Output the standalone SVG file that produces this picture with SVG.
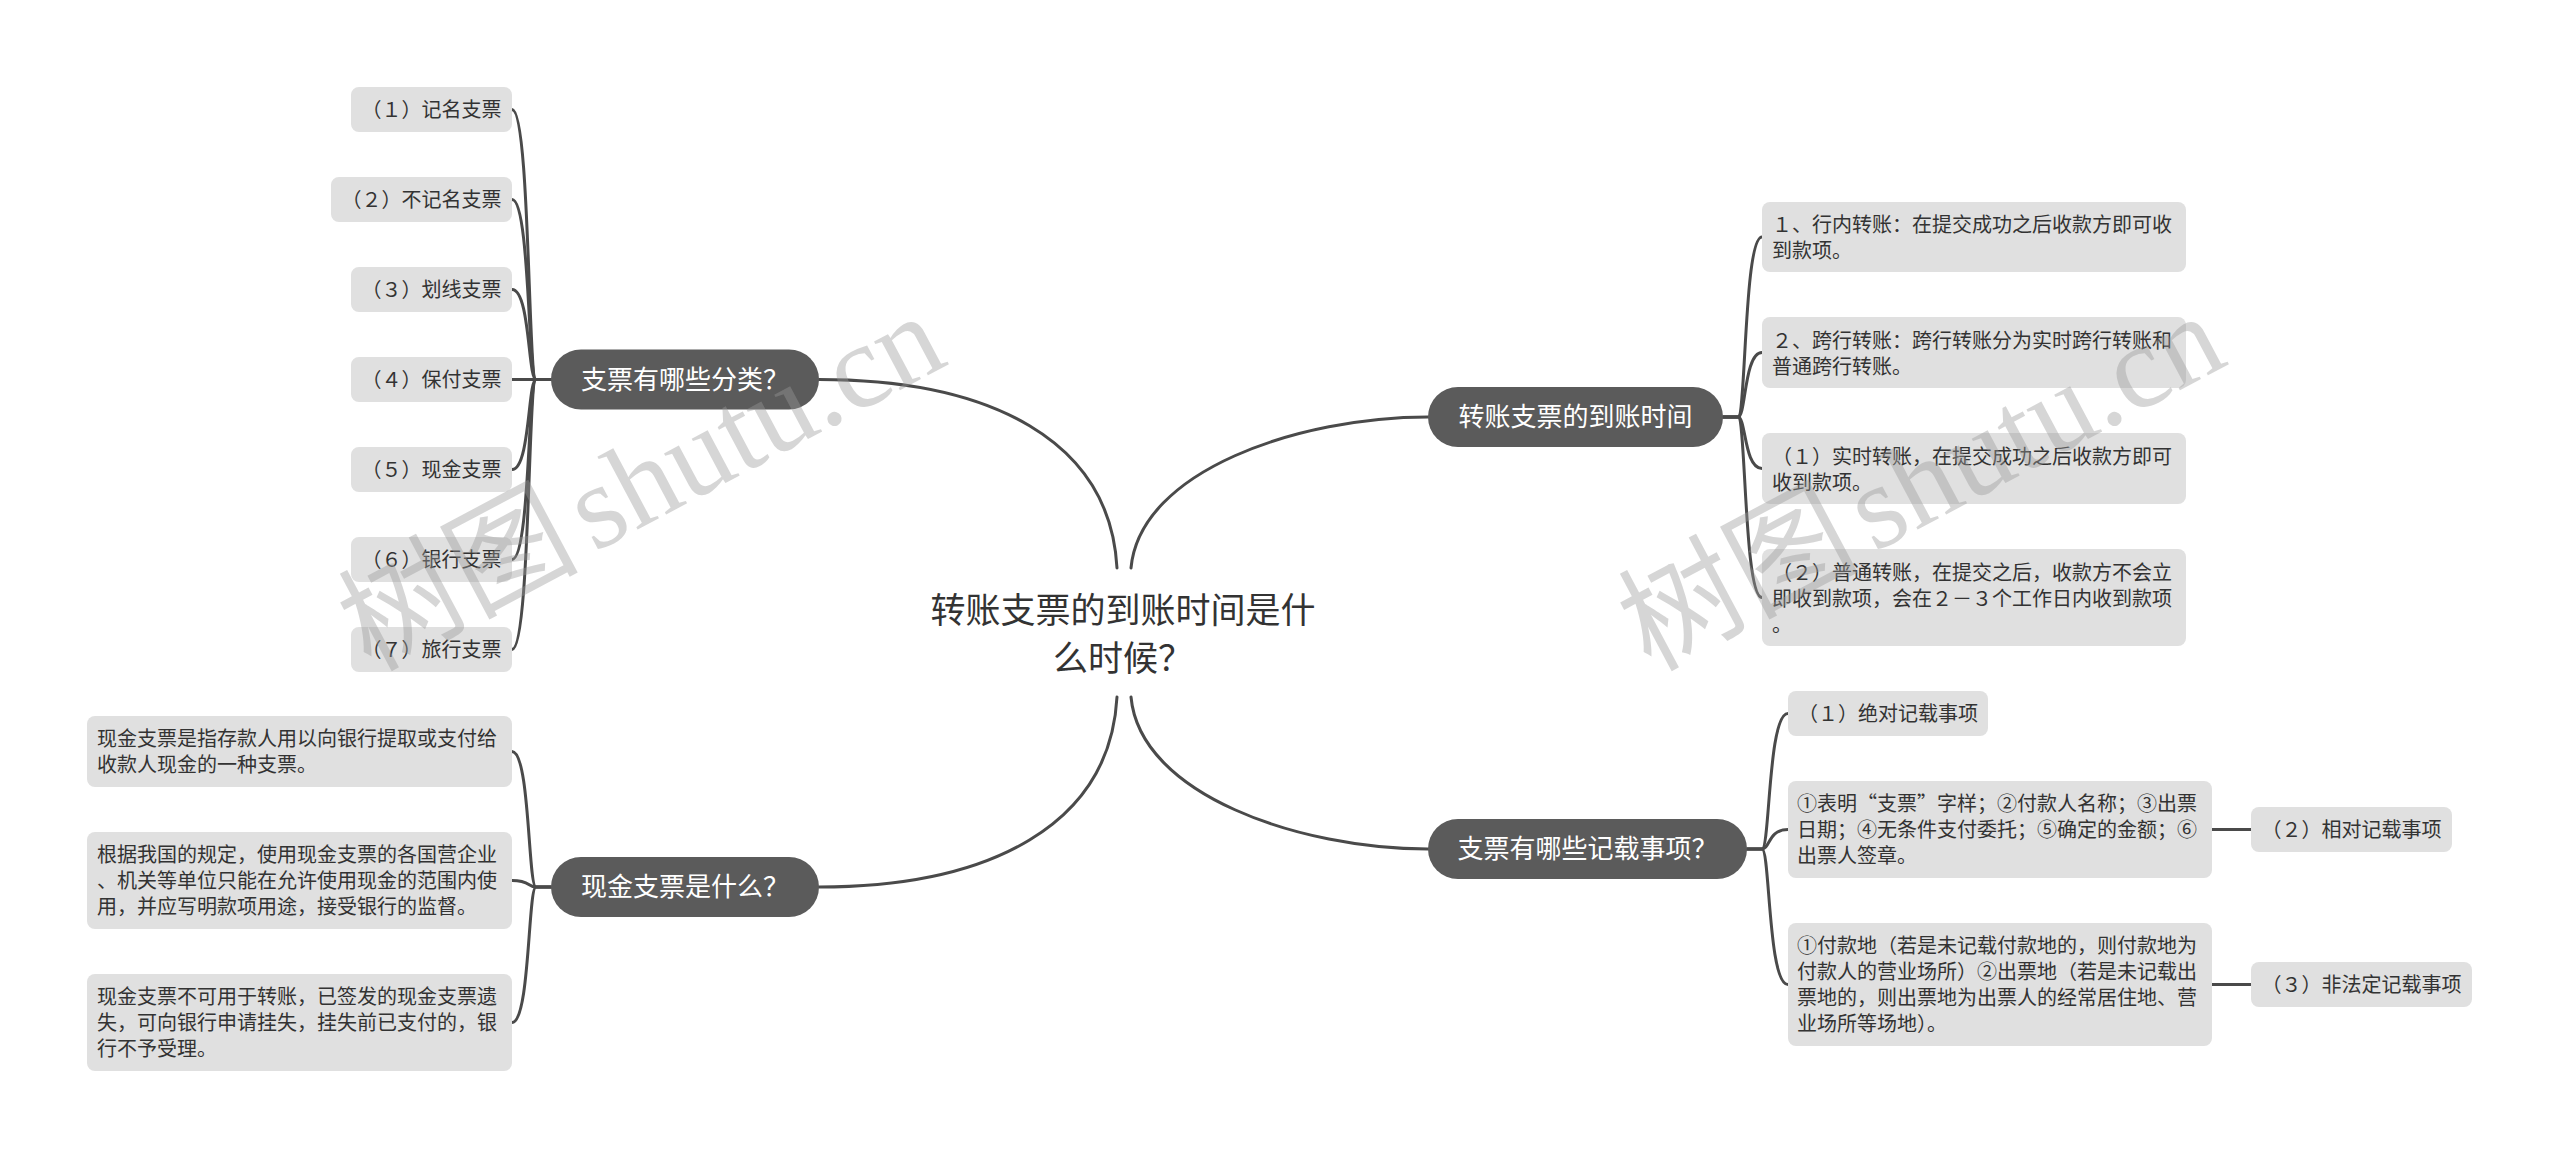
<svg xmlns="http://www.w3.org/2000/svg" width="2560" height="1159" viewBox="0 0 2560 1159">
<style>
text{font-family:"Noto Sans CJK SC","Liberation Sans",sans-serif}
.conn path{fill:none;stroke:#4a4a4a;stroke-width:3;stroke-linecap:round}
.main rect{fill:#5b5b5b}
.main text{fill:#ffffff;font-size:26px;text-anchor:middle}
.leaf rect{fill:#e0e0e0}
.leaf text{fill:#333333;font-size:20px}
.c{text-anchor:middle}
.root text{fill:#333333;font-size:35px;text-anchor:middle}
.wm{font-family:"Liberation Serif","Noto Sans CJK SC",serif;font-size:120px;fill:#9a9a9a;opacity:.4}
</style>
<rect width="2560" height="1159" fill="#ffffff"/>
<g id="connectors" class="conn">
<path d="M1117,568 C1110,440 990,379.5 819,379.5"/>
<path d="M1131,568 C1140,470 1300,417 1428,417"/>
<path d="M1117,697 C1110,825 990,887 819,887"/>
<path d="M1131,697 C1140,795 1300,849 1428,849"/>
<path d="M551,379.5 H536 C528,379.5 530,109.5 512,109.5"/>
<path d="M551,379.5 H536 C528,379.5 530,199.5 512,199.5"/>
<path d="M551,379.5 H536 C528,379.5 530,289.5 512,289.5"/>
<path d="M551,379.5 H512"/>
<path d="M551,379.5 H536 C528,379.5 530,469.5 512,469.5"/>
<path d="M551,379.5 H536 C528,379.5 530,559.5 512,559.5"/>
<path d="M551,379.5 H536 C528,379.5 530,649.5 512,649.5"/>
<path d="M551,887 H536 C528,887 530,751.5 512,751.5"/>
<path d="M551,887 H536 C528,887 530,880.5 512,880.5"/>
<path d="M551,887 H536 C528,887 530,1022.5 512,1022.5"/>
<path d="M1723,417 H1738 C1746,417 1744,237 1762,237"/>
<path d="M1723,417 H1738 C1746,417 1744,352.5 1762,352.5"/>
<path d="M1723,417 H1738 C1746,417 1744,468.5 1762,468.5"/>
<path d="M1723,417 H1738 C1746,417 1744,597.5 1762,597.5"/>
<path d="M1747,849 H1762 C1770,849 1768,713.5 1788,713.5"/>
<path d="M1747,849 H1762 C1770,849 1768,829.5 1788,829.5"/>
<path d="M1747,849 H1762 C1770,849 1768,984.5 1788,984.5"/>
<path d="M2212,829.5 H2251"/>
<path d="M2212,984.5 H2251"/>
</g>
<g id="root" class="root">
<text x="1123" y="623">转账支票的到账时间是什</text>
<text x="1123" y="671">么时候？</text>
</g>
<g id="n-cat" class="main"><rect x="551" y="349.5" width="268" height="60" rx="30"/><text x="685" y="388.5">支票有哪些分类？</text></g>
<g id="n-cash" class="main"><rect x="551" y="857" width="268" height="60" rx="30"/><text x="685" y="896">现金支票是什么？</text></g>
<g id="n-time" class="main"><rect x="1428" y="387" width="295" height="60" rx="30"/><text x="1575.5" y="426">转账支票的到账时间</text></g>
<g id="n-rec" class="main"><rect x="1428" y="819" width="319" height="60" rx="30"/><text x="1587.5" y="858">支票有哪些记载事项？</text></g>
<g id="c1" class="leaf"><rect x="351" y="87" width="161" height="45" rx="8"/><text class="c" x="431.5" y="116.5">（１）记名支票</text></g>
<g id="c2" class="leaf"><rect x="331" y="177" width="181" height="45" rx="8"/><text class="c" x="421.5" y="206.5">（２）不记名支票</text></g>
<g id="c3" class="leaf"><rect x="351" y="267" width="161" height="45" rx="8"/><text class="c" x="431.5" y="296.5">（３）划线支票</text></g>
<g id="c4" class="leaf"><rect x="351" y="357" width="161" height="45" rx="8"/><text class="c" x="431.5" y="386.5">（４）保付支票</text></g>
<g id="c5" class="leaf"><rect x="351" y="447" width="161" height="45" rx="8"/><text class="c" x="431.5" y="476.5">（５）现金支票</text></g>
<g id="c6" class="leaf"><rect x="351" y="537" width="161" height="45" rx="8"/><text class="c" x="431.5" y="566.5">（６）银行支票</text></g>
<g id="c7" class="leaf"><rect x="351" y="627" width="161" height="45" rx="8"/><text class="c" x="431.5" y="656.5">（７）旅行支票</text></g>
<g id="k1" class="leaf"><rect x="87" y="716" width="425" height="71" rx="8"/><text x="97" y="746">现金支票是指存款人用以向银行提取或支付给</text><text x="97" y="772">收款人现金的一种支票。</text></g>
<g id="k2" class="leaf"><rect x="87" y="832" width="425" height="97" rx="8"/><text x="97" y="862">根据我国的规定，使用现金支票的各国营企业</text><text x="97" y="888">、机关等单位只能在允许使用现金的范围内使</text><text x="97" y="914">用，并应写明款项用途，接受银行的监督。</text></g>
<g id="k3" class="leaf"><rect x="87" y="974" width="425" height="97" rx="8"/><text x="97" y="1004">现金支票不可用于转账，已签发的现金支票遗</text><text x="97" y="1030">失，可向银行申请挂失，挂失前已支付的，银</text><text x="97" y="1056">行不予受理。</text></g>
<g id="t1" class="leaf"><rect x="1762" y="202" width="424" height="70" rx="8"/><text x="1772" y="232">１、行内转账：在提交成功之后收款方即可收</text><text x="1772" y="258">到款项。</text></g>
<g id="t2" class="leaf"><rect x="1762" y="317" width="424" height="71" rx="8"/><text x="1772" y="348">２、跨行转账：跨行转账分为实时跨行转账和</text><text x="1772" y="374">普通跨行转账。</text></g>
<g id="t3" class="leaf"><rect x="1762" y="433" width="424" height="71" rx="8"/><text x="1772" y="464">（１）实时转账，在提交成功之后收款方即可</text><text x="1772" y="490">收到款项。</text></g>
<g id="t4" class="leaf"><rect x="1762" y="549" width="424" height="97" rx="8"/><text x="1772" y="580">（２）普通转账，在提交之后，收款方不会立</text><text x="1772" y="606">即收到款项，会在２－３个工作日内收到款项</text><text x="1772" y="632">。</text></g>
<g id="r1" class="leaf"><rect x="1788" y="691" width="200" height="45" rx="8"/><text class="c" x="1888" y="720.5">（１）绝对记载事项</text></g>
<g id="r2" class="leaf"><rect x="1788" y="781" width="424" height="97" rx="8"/><text x="1797" y="811">①表明“支票”字样；②付款人名称；③出票</text><text x="1797" y="837">日期；④无条件支付委托；⑤确定的金额；⑥</text><text x="1797" y="863">出票人签章。</text></g>
<g id="r3" class="leaf"><rect x="1788" y="923" width="424" height="123" rx="8"/><text x="1797" y="953">①付款地（若是未记载付款地的，则付款地为</text><text x="1797" y="979">付款人的营业场所）②出票地（若是未记载出</text><text x="1797" y="1005">票地的，则出票地为出票人的经常居住地、营</text><text x="1797" y="1031">业场所等场地）。</text></g>
<g id="s1" class="leaf"><rect x="2251" y="807" width="201" height="45" rx="8"/><text class="c" x="2351.5" y="836.5">（２）相对记载事项</text></g>
<g id="s2" class="leaf"><rect x="2251" y="962" width="221" height="45" rx="8"/><text class="c" x="2361.5" y="991.5">（３）非法定记载事项</text></g>
<g id="watermark">
<text class="wm" x="370" y="672" transform="rotate(-28 370 672)">树图<tspan dx="14">shutu.cn</tspan></text>
<text class="wm" x="1650" y="672" transform="rotate(-28 1650 672)">树图<tspan dx="14">shutu.cn</tspan></text>
</g>
</svg>
